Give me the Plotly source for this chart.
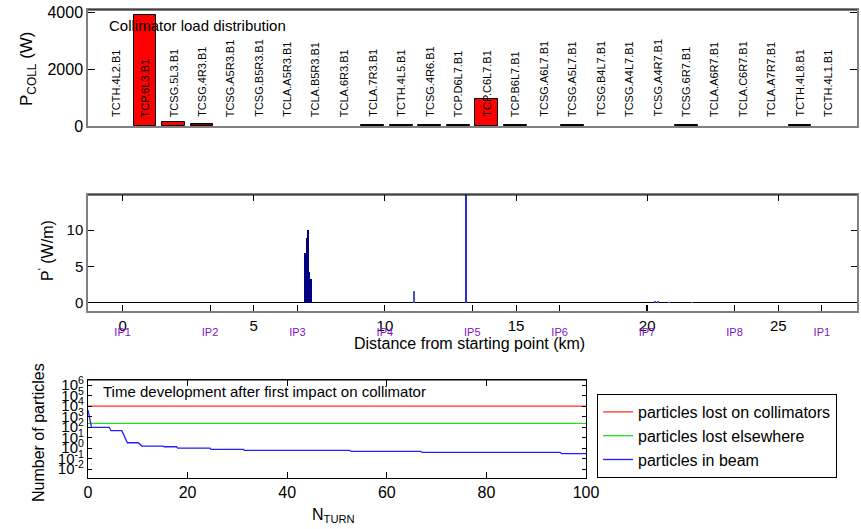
import plotly.graph_objects as go

# ---------------- data ----------------
collimators = ["TCTH.4L2.B1", "TCP.6L3.B1", "TCSG.5L3.B1", "TCSG.4R3.B1", "TCSG.A5R3.B1",
               "TCSG.B5R3.B1", "TCLA.A5R3.B1", "TCLA.B5R3.B1", "TCLA.6R3.B1", "TCLA.7R3.B1",
               "TCTH.4L5.B1", "TCSG.4R6.B1", "TCP.D6L7.B1", "TCP.C6L7.B1", "TCP.B6L7.B1",
               "TCSG.A6L7.B1", "TCSG.A5L7.B1", "TCSG.B4L7.B1", "TCSG.A4L7.B1", "TCSG.A4R7.B1",
               "TCSG.6R7.B1", "TCLA.A6R7.B1", "TCLA.C6R7.B1", "TCLA.A7R7.B1", "TCTH.4L8.B1",
               "TCTH.4L1.B1"]
coll_power_w = [0, 3920, 140, 70, 0,
                0, 0, 0, 0, 25,
                25, 20, 20, 955, 20,
                0, 20, 0, 0, 0,
                20, 0, 0, 0, 20,
                0]

ip_names = ["IP1", "IP2", "IP3", "IP4", "IP5", "IP6", "IP7", "IP8", "IP1"]
ip_pos_km = [0.0, 3.332, 6.665, 9.997, 13.33, 16.66, 19.99, 23.33, 26.66]

loss_pos_km = [6.97, 7.00, 7.03, 7.06, 7.08, 7.11, 7.14, 7.19, 11.12, 13.11, 20.30, 20.40, 20.85, 21.70]
loss_w_per_m = [6.8, 4.3, 8.9, 4.4, 10.0, 4.3, 1.4, 3.3, 1.7, 30.0, 0.15, 0.2, 0.1, 0.12]

turns_const = [0, 100]
lost_on_collimators = [10000, 10000]
lost_elsewhere = [227, 227]

turns_beam = [0, 0.7, 4.3, 4.6, 6.8, 7.9, 10.1, 10.8, 15.1, 15.3, 17.8, 18.0, 24.5, 24.7,
              31.2, 31.4, 52.5, 52.8, 66.8, 67.1, 94.8, 95.1, 100]
in_beam = [4200, 94, 94, 45, 45, 3.2, 3.2, 1.56, 1.56, 1.34, 1.34, 1.0, 1.0, 0.76,
           0.76, 0.61, 0.61, 0.49, 0.49, 0.39, 0.39, 0.30, 0.30]

log_ticks_exp = [-2, -1, 0, 1, 2, 3, 4, 5, 6]

# ---------------- styling ----------------
FONT = "Liberation Sans, Arial, sans-serif"
W, H = 861, 529
GREY = "#808080"
loss_colors = ["#000080"] * 8 + ["#5050c8", "#2a2ad8", "#4040c0", "#4040c0", "#4040c0", "#4040c0"]

def px_x(p):
    return p / W

def px_y(p):
    return (H - p) / H

fig = go.Figure()

# top: collimator loads (zero-load bars drawn without outline)
fig.add_trace(go.Bar(
    x=collimators, y=coll_power_w, xaxis="x", yaxis="y", width=0.8,
    marker=dict(color=coll_power_w, cmin=0, cmax=max(coll_power_w),
                colorscale=[[0, "#000000"], [0.008, "#000000"], [0.018, "#8b0000"],
                            [0.035, "#ff0000"], [1, "#ff0000"]],
                line=dict(color="black", width=[1 if v > 0 else 0 for v in coll_power_w])),
    showlegend=False, hoverinfo="x+y"))

# middle: loss map
fig.add_trace(go.Bar(
    x=loss_pos_km, y=loss_w_per_m, xaxis="x2", yaxis="y2", width=0.045,
    marker=dict(color=loss_colors, line=dict(width=0)), showlegend=False))
# invisible carrier so the IP axis is drawn
fig.add_trace(go.Scatter(x=ip_pos_km, y=[0] * len(ip_pos_km), xaxis="x4", yaxis="y2",
                         mode="markers", marker=dict(opacity=0), showlegend=False,
                         hoverinfo="skip"))

# bottom: time development
fig.add_trace(go.Scatter(x=turns_const, y=lost_on_collimators, xaxis="x3", yaxis="y3",
                         mode="lines", line=dict(color="#ff3030", width=1.3),
                         name="particles lost on collimators"))
fig.add_trace(go.Scatter(x=turns_const, y=lost_elsewhere, xaxis="x3", yaxis="y3",
                         mode="lines", line=dict(color="#20e020", width=1.3),
                         name="particles lost elsewhere"))
fig.add_trace(go.Scatter(x=turns_beam, y=in_beam, xaxis="x3", yaxis="y3",
                         mode="lines", line=dict(color="#2020ff", width=1.3),
                         name="particles in beam"))

xdom = [px_x(88), px_x(857)]
common = dict(showgrid=False, zeroline=False, ticks="inside", tickcolor="black",
              linecolor=GREY, linewidth=1.5, showline=True, mirror="ticks",
              automargin=False)

annotations = []
for c in collimators:
    annotations.append(dict(x=c, y=250, xref="x", yref="y", text=c, textangle=-90,
                            xanchor="center", yanchor="bottom", showarrow=False,
                            font=dict(size=11, color="black", family=FONT)))

def txt(x, y, text, size=16, angle=0, xanchor="center", yanchor="middle"):
    annotations.append(dict(x=x, y=y, xref="paper", yref="paper", text=text,
                            textangle=angle, showarrow=False, xanchor=xanchor,
                            yanchor=yanchor, font=dict(size=size, color="black", family=FONT)))

txt(px_x(107), px_y(25), "Collimator load distribution", 15, xanchor="left")
txt(px_x(28), px_y(69), "P<sub>COLL</sub> (W)", 17, angle=-90)
txt(px_x(46), px_y(251), "P<sup>'</sup> (W/m)", 16, angle=-90)
txt(px_x(470), px_y(343), "Distance from starting point (km)", 16)
txt(px_x(101), px_y(391), "Time development after first impact on collimator", 15, xanchor="left")
txt(px_x(38), px_y(433), "Number of particles", 16, angle=-90)
txt(px_x(333), px_y(515), "N<sub>TURN</sub>", 16)

shapes = []
for xr, yr in [("x", "y"), ("x2", "y2"), ("x3", "y3")]:
    shapes.append(dict(type="line", xref=f"{xr} domain", yref=f"{yr} domain",
                       x0=0, x1=1, y0=1, y1=1, line=dict(color="black", width=1.2)))

fig.update_layout(
    width=W, height=H, margin=dict(l=0, r=0, t=0, b=0, autoexpand=False),
    paper_bgcolor="white", plot_bgcolor="white",
    font=dict(family=FONT, color="black"),
    bargap=0,
    xaxis=dict(domain=xdom, anchor="y", type="category", range=[-1, 26],
               showticklabels=False, ticks="", showline=True, mirror=True,
               linecolor=GREY, linewidth=1.5, showgrid=False, zeroline=False,
               automargin=False),
    yaxis=dict(domain=[px_y(126), px_y(10)], anchor="x", range=[0, 4100],
               tickvals=[0, 2000, 4000], ticklen=7, tickfont=dict(size=16), **common),
    xaxis2=dict(domain=xdom, anchor="y2", range=[-1.32, 28.0],
                tickvals=[0, 5, 10, 15, 20, 25], ticklen=6, tickfont=dict(size=15),
                **{**common, "linewidth": 2}),
    xaxis4=dict(overlaying="x2", anchor="y2", side="bottom", range=[-1.32, 28.0],
                tickvals=ip_pos_km, ticktext=ip_names, ticks="inside", ticklen=6,
                tickcolor="black", showline=False, showgrid=False, zeroline=False,
                automargin=False, ticklabelstandoff=13,
                tickfont=dict(size=11, color="#8010c8")),
    yaxis2=dict(domain=[px_y(311), px_y(195)], anchor="x2", range=[-1.1, 14.8],
                tickvals=[0, 5, 10], ticklen=6, tickfont=dict(size=15),
                **{**common, "zeroline": True, "zerolinecolor": "black", "zerolinewidth": 1}),
    xaxis3=dict(domain=[px_x(88), px_x(586)], anchor="y3", range=[0, 100],
                tickvals=[0, 20, 40, 60, 80, 100], ticklen=6, tickfont=dict(size=16),
                **{**common, "linecolor": "black", "linewidth": 1.2}),
    yaxis3=dict(domain=[px_y(478), px_y(380)], anchor="x3", type="log", range=[-2.85, 6.48],
                tickvals=[10 ** e for e in log_ticks_exp],
                ticktext=[f"10<sup>{e}</sup>" for e in log_ticks_exp],
                ticklen=4, tickfont=dict(size=15),
                **{**common, "linecolor": "black", "linewidth": 1.2}),
    legend=dict(x=px_x(597), y=px_y(394), xanchor="left", yanchor="top",
                bordercolor="black", borderwidth=1, bgcolor="white",
                font=dict(size=16, color="black", family=FONT), tracegroupgap=0),
    annotations=annotations, shapes=shapes,
)

fig.write_html("out.html", config={"displayModeBar": False},
               post_script="document.body.style.margin='0px';document.body.style.overflow='hidden';")
